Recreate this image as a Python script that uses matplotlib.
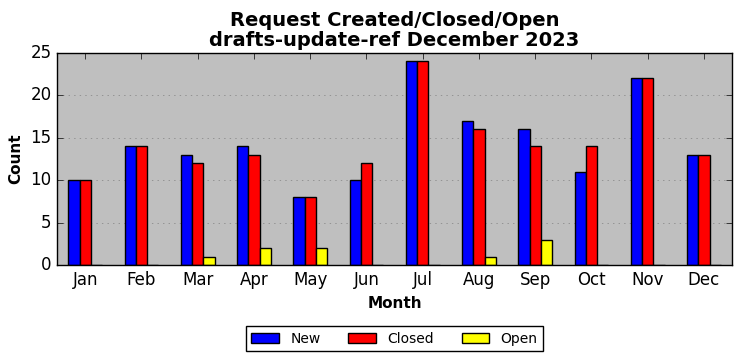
import numpy as np
import matplotlib
matplotlib.use("Agg")
import matplotlib.pyplot as plt

plt.style.use("classic")

months = ["Jan", "Feb", "Mar", "Apr", "May", "Jun",
          "Jul", "Aug", "Sep", "Oct", "Nov", "Dec"]
new_counts = [10, 14, 13, 14, 8, 10, 24, 17, 16, 11, 22, 13]
closed_counts = [10, 14, 12, 13, 8, 12, 24, 16, 14, 14, 22, 13]
open_counts = [0, 0, 1, 2, 2, 0, 0, 1, 3, 0, 0, 0]

fig = plt.figure(figsize=(7.42, 3.61), dpi=100, facecolor="white")
ax = fig.add_axes([57 / 742, 1 - 265 / 361, 675 / 742, 212 / 361])
ax.set_facecolor("#bfbfbf")

x = np.arange(len(months))
w = 0.2
ax.bar(x - w, new_counts, w, align="center", color="blue", edgecolor="black", label="New")
ax.bar(x, closed_counts, w, align="center", color="red", edgecolor="black", label="Closed")
ax.bar(x + w, open_counts, w, align="center", color="yellow", edgecolor="black", label="Open")

ax.set_xlim(-0.5, len(months) - 0.5)
ax.set_ylim(0, 25)
ax.set_xticks(x)
ax.set_xticklabels(months, fontsize=12)
ax.set_yticks(range(0, 26, 5))
ax.tick_params(axis="y", labelsize=12)
ax.yaxis.grid(True, linestyle=":", color="gray")
ax.set_axisbelow(True)

ax.set_xlabel("Month", fontsize=11, fontweight="bold")
ax.set_ylabel("Count", fontsize=11, fontweight="bold")
ax.set_title("Request Created/Closed/Open\ndrafts-update-ref December 2023",
             fontsize=14, fontweight="bold", linespacing=1.1)

ax.legend(loc="upper center", bbox_to_anchor=(0.5, -0.255), ncol=3,
          fontsize=10, frameon=True, fancybox=False, handlelength=2.0,
          columnspacing=2.0)

fig.savefig("out.png", dpi=100, facecolor="white")
